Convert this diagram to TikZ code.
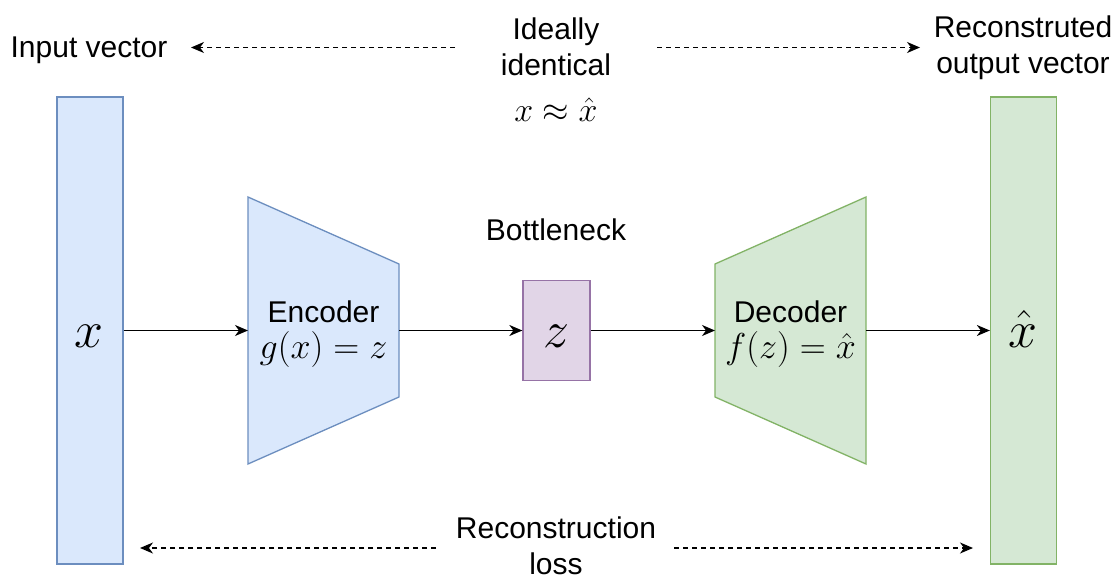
\RequirePackage{fix-cm}
\documentclass[tikz,border=0pt]{standalone}
\usepackage{fontspec}
\setmainfont{Liberation Sans}
\usetikzlibrary{arrows.meta}
\definecolor{blueFill}{HTML}{DAE8FC}
\definecolor{blueLine}{HTML}{6C8EBF}
\definecolor{greenFill}{HTML}{D5E8D4}
\definecolor{greenLine}{HTML}{82B366}
\definecolor{purpleFill}{HTML}{E1D5E7}
\definecolor{purpleLine}{HTML}{9673A6}
\begin{document}
\begin{tikzpicture}[x=1pt,y=-1pt,
  lbl/.style={font=\fontsize{30}{36}\selectfont, align=center, inner sep=0pt, text depth=0pt},
  mathbig/.style={font=\fontsize{52}{52}\selectfont, inner sep=0pt, anchor=base},
  mathmid/.style={font=\fontsize{34}{40}\selectfont, inner sep=0pt, anchor=base},
  tip/.style={-{Stealth[length=13pt,width=11pt,inset=4pt]}},
  flow/.style={tip, line width=1.3pt},
  dashflow/.style={tip, line width=1.3pt, dash pattern=on 5pt off 4pt},
  vecbar/.style={draw, line width=1.3pt, minimum width=66pt, minimum height=467pt, inner sep=0pt},
  block/.style={line width=1.3pt},
]
\fill[white] (0,0) rectangle (1116,577);
\useasboundingbox (0,0) rectangle (1116,577);

% input and output vectors
\node[vecbar, fill=blueFill, draw=blueLine] (inbar) at (90,330.5) {};
\node[vecbar, fill=greenFill, draw=greenLine] (outbar) at (1023.5,330.5) {};
\node[mathbig] (xin) at (89,347) {$x$};
\node[mathbig] (xout) at (1023,347) {$\hat{x}$};

% encoder
\draw[block, fill=blueFill, draw=blueLine] (248,197) -- (399,264) -- (399,397) -- (248,464) -- cycle;
\coordinate (encL) at (248,330.5);
\coordinate (encR) at (399,330.5);
\node[lbl] (enc) at (323.5,330) {Encoder\\{\fontsize{36}{40}\selectfont$g(x)=z$}};

% bottleneck
\node[block, draw=purpleLine, fill=purpleFill, minimum width=67pt, minimum height=100pt, inner sep=0pt] (zbox) at (556.5,330.5) {};
\node[mathbig] (zlbl) at (556.5,347) {$z$};
\node[lbl] (bneck) at (556,230) {Bottleneck};

% decoder
\draw[block, fill=greenFill, draw=greenLine] (715,264) -- (866,197) -- (866,464) -- (715,397) -- cycle;
\coordinate (decL) at (715,330.5);
\coordinate (decR) at (866,330.5);
\node[lbl] (dec) at (790.5,330) {Decoder\\{\fontsize{36}{40}\selectfont$f(z)=\hat{x}$}};

% main flow
\draw[flow] (inbar.east) -- (encL);
\draw[flow] (encR) -- (zbox.west);
\draw[flow] (zbox.east) -- (decL);
\draw[flow] (decR) -- (outbar.west);

% top annotations
\node[lbl] (inlbl) at (89,47.5) {Input vector};
\node[lbl] (ideal) at (556,46.5) {Ideally\\identical};
\node[mathmid] (approx) at (556,122) {$x\approx\hat{x}$};
\node[lbl] (outlbl) at (1023,45) {Reconstruted\\output vector};
\coordinate (idealW) at (455,47.5);
\coordinate (inlblE) at (191,47.5);
\coordinate (idealE) at (657,47.5);
\coordinate (outlblW) at (920,47.5);
\draw[dashflow] (idealW) -- (inlblE);
\draw[dashflow] (idealE) -- (outlblW);

% bottom annotation
\node[lbl] (recloss) at (556,545.5) {Reconstruction\\loss};
\coordinate (lossW) at (436,548);
\coordinate (inbarE) at (140,548);
\coordinate (lossE) at (674,548);
\coordinate (outbarW) at (973,548);
\draw[dashflow] (lossW) -- (inbarE);
\draw[dashflow] (lossE) -- (outbarW);
\end{tikzpicture}
\end{document}
